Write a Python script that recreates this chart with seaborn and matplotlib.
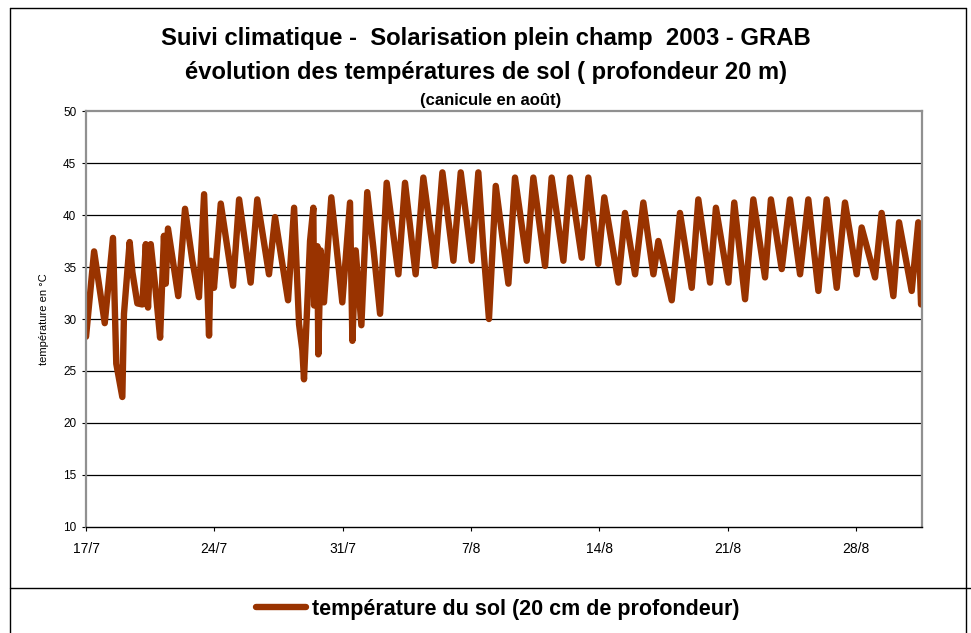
import numpy as np
import pandas as pd
import matplotlib
matplotlib.use("Agg")
import matplotlib.pyplot as plt
from matplotlib.lines import Line2D
import seaborn as sns

# jours depuis le 17/7 (lecture des pics et creux sur le graphique)
jours = [0.0, 0.44, 1.02, 1.47, 1.65, 1.98, 2.07, 2.38, 2.53, 2.80, 3.07, 3.26, 3.38, 3.53,
         3.80, 4.04, 4.25, 4.35, 4.47, 5.03, 5.40, 5.80, 6.16, 6.44, 6.71, 6.80, 6.98, 7.35,
         8.02, 8.35, 8.98, 9.34, 9.98, 10.31, 11.02, 11.35, 11.62, 11.80, 11.89, 12.22, 12.40,
         12.44, 12.62, 12.67, 12.80, 12.98, 13.38, 13.98, 14.40, 14.53, 14.71, 15.02, 15.34,
         15.67, 16.04, 16.40, 17.04, 17.40, 17.98, 18.40, 19.04, 19.44, 20.04, 20.44, 21.04,
         21.40, 21.67, 21.98, 22.35, 23.04, 23.40, 24.04, 24.40, 25.04, 25.40, 26.04, 26.40,
         27.04, 27.40, 27.94, 28.27, 29.04, 29.40, 29.95, 30.40, 30.95, 31.22, 31.95, 32.40,
         33.04, 33.40, 34.04, 34.36, 35.04, 35.36, 35.95, 36.40, 37.04, 37.36, 37.95, 38.40,
         38.95, 39.40, 39.95, 40.40, 40.95, 41.40, 42.04, 42.31, 43.04, 43.40, 44.04, 44.35,
         45.04, 45.40, 45.55]
temperature = [28.3, 36.5, 29.6, 37.8, 25.7, 22.5, 30.5, 37.4, 34.5, 31.5, 31.4, 37.2, 31.1, 37.2,
               32.7, 28.2, 38.0, 33.4, 38.7, 32.2, 40.6, 35.6, 32.1, 42.0, 28.4, 35.6, 33.0, 41.1,
               33.2, 41.5, 33.5, 41.5, 34.3, 39.8, 31.8, 40.7, 29.5, 27.0, 24.2, 37.5, 40.7,
               31.3, 37.0, 26.6, 36.6, 31.6, 41.7, 31.6, 41.2, 27.9, 36.6, 29.4, 42.2,
               36.9, 30.5, 43.1, 34.3, 43.1, 34.3, 43.6, 35.1, 44.1, 35.6, 44.1, 35.6,
               44.1, 36.9, 30.0, 42.8, 33.4, 43.6, 35.6, 43.6, 35.1, 43.6, 35.6, 43.6,
               35.9, 43.6, 35.3, 41.7, 33.5, 40.2, 34.3, 41.2, 34.3, 37.5, 31.8, 40.2,
               33.0, 41.5, 33.5, 40.7, 33.5, 41.2, 31.9, 41.5, 34.0, 41.5, 34.8, 41.5,
               34.3, 41.5, 32.7, 41.5, 33.0, 41.2, 34.3, 38.8, 34.0, 40.2, 32.2, 39.3,
               32.7, 39.3, 31.4]

tick_jours = [0, 7, 14, 21, 28, 35, 42]
tick_labels = ["17/7", "24/7", "31/7", "7/8", "14/8", "21/8", "28/8"]

df = pd.DataFrame({"jour": jours, "temperature": temperature})

sns.set_style("white")
plt.rcParams['font.family'] = ['Liberation Sans', 'DejaVu Sans']
plt.rcParams['text.color'] = 'black'
plt.rcParams['xtick.color'] = 'black'
plt.rcParams['ytick.color'] = 'black'
plt.rcParams['axes.labelcolor'] = 'black'

fig = plt.figure(figsize=(9.71, 6.33), dpi=100)
ax = fig.add_axes([0.0886, 0.1675, 0.8609, 0.6571])

sns.lineplot(data=df, x="jour", y="temperature", ax=ax, color="#993300",
             linewidth=4.6, solid_joinstyle="round")

ax.set_xlim(0, 45.6)
ax.set_ylim(10, 50)
ax.set_yticks(range(10, 51, 5))
ax.set_xticks(tick_jours)
ax.set_xticklabels(tick_labels)
for y in range(15, 50, 5):
    ax.axhline(y, color="black", linewidth=0.9, zorder=0)
ax.tick_params(axis="both", length=3, width=0.8, color="black",
               direction="out", bottom=True, left=True)
ax.tick_params(axis="y", labelsize=8.5, pad=4)
ax.tick_params(axis="x", labelsize=10, pad=8)
for side in ["left", "top", "right"]:
    ax.spines[side].set_color("#909090")
    ax.spines[side].set_linewidth(1.6)
ax.spines["bottom"].set_color("black")
ax.spines["bottom"].set_linewidth(1.0)
ax.set_xlabel("")
ax.set_ylabel("température en °C", fontsize=8, labelpad=10)

fig.text(0.5, 1 - 38 / 633, "Suivi climatique -  Solarisation plein champ  2003 - GRAB",
         ha="center", va="center", fontsize=17.2, fontweight="bold", color="black")
fig.text(0.5, 1 - 72 / 633, "évolution des températures de sol ( profondeur 20 m)",
         ha="center", va="center", fontsize=17.1, fontweight="bold", color="black")
fig.text(0.505, 1 - 100 / 633, "(canicule en août)",
         ha="center", va="center", fontsize=12, fontweight="bold", color="black")

# cadre du graphique
fig.add_artist(Line2D([10 / 971, 10 / 971], [0, 1 - 8 / 633], transform=fig.transFigure,
                      color="black", linewidth=1.0))
fig.add_artist(Line2D([10 / 971, 966 / 971], [1 - 8 / 633, 1 - 8 / 633], transform=fig.transFigure,
                      color="black", linewidth=1.0))
fig.add_artist(Line2D([966 / 971, 966 / 971], [0, 1 - 8 / 633], transform=fig.transFigure,
                      color="black", linewidth=1.0))
fig.add_artist(Line2D([10 / 971, 1], [1 - 588 / 633, 1 - 588 / 633], transform=fig.transFigure,
                      color="black", linewidth=1.0))

handle = Line2D([], [], color="#993300", linewidth=4.6)
leg = fig.legend([handle], ["température du sol (20 cm de profondeur)"],
                 loc="center", bbox_to_anchor=(0.513, 1 - 609 / 633), frameon=False,
                 prop={"size": 15.5, "weight": "bold"}, handlelength=2.3, handletextpad=0.3)
for t in leg.get_texts():
    t.set_color("black")

fig.savefig("out.png", dpi=100)
